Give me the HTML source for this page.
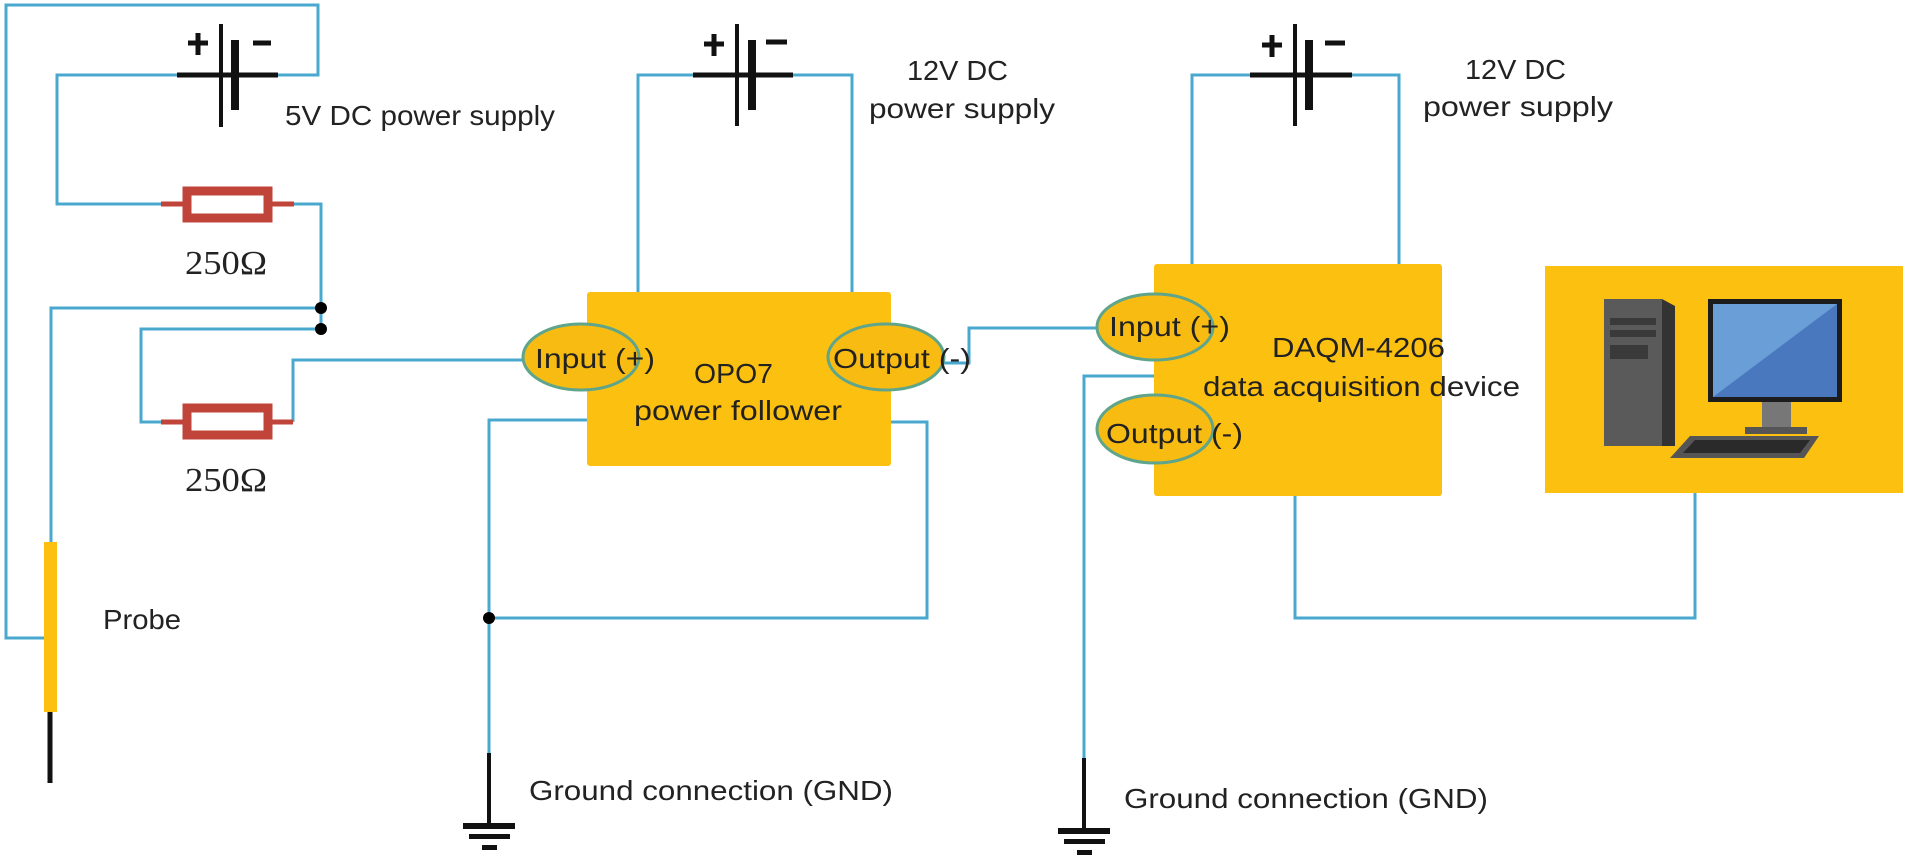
<!DOCTYPE html>
<html><head><meta charset="utf-8"><style>
html,body{margin:0;padding:0;background:#fff;}
svg{display:block;}
text{font-family:"Liberation Sans",sans-serif;fill:#222;}
.w{stroke:#4aa8cf;stroke-width:3;fill:none;}
.b{stroke:#111;fill:none;}
</style></head><body>
<svg width="1905" height="858" viewBox="0 0 1905 858" xmlns="http://www.w3.org/2000/svg">
<!-- wires -->
<polyline class="w" points="177,75 57,75 57,204 161,204"/>
<polyline class="w" points="278,75 318,75 318,5 6,5 6,638 44,638"/>
<polyline class="w" points="294,204 321,204 321,329"/>
<polyline class="w" points="321,308 51,308 51,542"/>
<polyline class="w" points="321,329 141,329 141,422 161,422"/>
<polyline class="w" points="293,422 293,360 523,360"/>
<polyline class="w" points="693,75 638,75 638,292"/>
<polyline class="w" points="793,75 852,75 852,292"/>
<polyline class="w" points="587,420 489,420 489,753"/>
<polyline class="w" points="891,422 927,422 927,618 489,618"/>
<polyline class="w" points="944,363 969,363 969,328 1097,328"/>
<polyline class="w" points="1250,75 1192,75 1192,264"/>
<polyline class="w" points="1352,75 1399,75 1399,264"/>
<polyline class="w" points="1154,376 1084,376 1084,758"/>
<polyline class="w" points="1295,496 1295,618 1695,618 1695,493"/>

<!-- batteries -->
<g class="b">
<line x1="177" y1="75" x2="278" y2="75" stroke-width="5"/>
<line x1="221" y1="24" x2="221" y2="127" stroke-width="4"/>
<line x1="235" y1="40" x2="235" y2="110" stroke-width="8"/>
<line x1="188" y1="43" x2="208" y2="43" stroke-width="5"/><line x1="198" y1="33" x2="198" y2="55" stroke-width="5"/>
<line x1="253" y1="43" x2="271" y2="43" stroke-width="5"/>

<line x1="693" y1="75" x2="793" y2="75" stroke-width="5"/>
<line x1="737" y1="24" x2="737" y2="126" stroke-width="4"/>
<line x1="752" y1="40" x2="752" y2="110" stroke-width="8"/>
<line x1="704" y1="44" x2="724" y2="44" stroke-width="5"/><line x1="714" y1="34" x2="714" y2="56" stroke-width="5"/>
<line x1="766" y1="42" x2="787" y2="42" stroke-width="5"/>

<line x1="1250" y1="75" x2="1352" y2="75" stroke-width="5"/>
<line x1="1295" y1="24" x2="1295" y2="126" stroke-width="4"/>
<line x1="1309" y1="40" x2="1309" y2="110" stroke-width="8"/>
<line x1="1262" y1="45" x2="1282" y2="45" stroke-width="5"/><line x1="1272" y1="35" x2="1272" y2="57" stroke-width="5"/>
<line x1="1325" y1="43" x2="1345" y2="43" stroke-width="5"/>
</g>

<!-- resistors -->
<g>
<line x1="161" y1="204" x2="294" y2="204" stroke="#c0443a" stroke-width="5"/>
<rect x="187" y="191" width="81" height="27" fill="#fff" stroke="#c0443a" stroke-width="9"/>
<line x1="161" y1="422" x2="293" y2="422" stroke="#c0443a" stroke-width="5"/>
<rect x="187" y="408" width="81" height="27" fill="#fff" stroke="#c0443a" stroke-width="9"/>
</g>
<circle cx="321" cy="308" r="6" fill="#000"/>
<circle cx="321" cy="329" r="6" fill="#000"/>
<circle cx="489" cy="618" r="6" fill="#000"/>

<!-- probe -->
<rect x="44" y="542" width="13" height="170" fill="#fcc010"/>
<line x1="50" y1="712" x2="50" y2="783" stroke="#111" stroke-width="5"/>

<!-- grounds -->
<g fill="#111">
<rect x="487" y="753" width="4" height="72"/>
<rect x="463" y="823" width="52" height="6"/>
<rect x="469" y="834" width="41" height="5"/>
<rect x="482" y="845" width="15" height="5"/>
<rect x="1082" y="758" width="4" height="72"/>
<rect x="1058" y="828" width="52" height="6"/>
<rect x="1064" y="839" width="41" height="5"/>
<rect x="1077" y="850" width="15" height="5"/>
</g>

<!-- boxes -->
<rect x="587" y="292" width="304" height="174" rx="3" fill="#fcc010"/>
<rect x="1154" y="264" width="288" height="232" rx="3" fill="#fcc010"/>
<rect x="1545" y="266" width="358" height="227" fill="#fcc010"/>

<!-- ellipses -->
<g fill="#f7bb12" stroke="#5ea58c" stroke-width="3">
<ellipse cx="581" cy="357" rx="58" ry="33"/>
<ellipse cx="886" cy="357" rx="58" ry="33"/>
<ellipse cx="1155" cy="327" rx="58" ry="33"/>
<ellipse cx="1155" cy="429" rx="58" ry="34"/>
</g>

<!-- computer -->
<rect x="1604" y="299" width="58" height="147" fill="#5a5a5a"/>
<polygon points="1662,299 1675,306 1675,446 1662,446" fill="#333"/>
<rect x="1610" y="318" width="46" height="7" fill="#3a3a3a"/>
<rect x="1610" y="330" width="46" height="7" fill="#3a3a3a"/>
<rect x="1610" y="345" width="38" height="14" fill="#3a3a3a"/>
<rect x="1708" y="299" width="134" height="103" fill="#1c1c1c"/>
<rect x="1713" y="304" width="124" height="93" fill="#4a78bf"/>
<polygon points="1713,304 1837,304 1713,397" fill="#6a9ed6"/>
<rect x="1762" y="402" width="29" height="25" fill="#777"/>
<rect x="1745" y="427" width="62" height="7" fill="#555"/>
<polygon points="1690,436 1819,436 1804,458 1670,458" fill="#555"/>
<polygon points="1695,440 1810,440 1800,453 1683,453" fill="#2a2a2a"/>

<!-- text -->
<text x="285" y="125" font-size="28" textLength="270" lengthAdjust="spacingAndGlyphs">5V DC power supply</text>
<text x="185" y="274" font-size="34" style="font-family:'Liberation Serif',serif" textLength="82" lengthAdjust="spacingAndGlyphs">250Ω</text>
<text x="185" y="491" font-size="34" style="font-family:'Liberation Serif',serif" textLength="82" lengthAdjust="spacingAndGlyphs">250Ω</text>
<text x="103" y="629" font-size="28" textLength="78" lengthAdjust="spacingAndGlyphs">Probe</text>
<text x="535" y="368" font-size="28" textLength="120" lengthAdjust="spacingAndGlyphs">Input (+)</text>
<text x="694" y="383" font-size="28" textLength="79" lengthAdjust="spacingAndGlyphs">OPO7</text>
<text x="634" y="420" font-size="28" textLength="208" lengthAdjust="spacingAndGlyphs">power follower</text>
<text x="833" y="368" font-size="28" textLength="138" lengthAdjust="spacingAndGlyphs">Output (-)</text>
<text x="907" y="80" font-size="28" textLength="101" lengthAdjust="spacingAndGlyphs">12V DC</text>
<text x="869" y="118" font-size="28" textLength="186" lengthAdjust="spacingAndGlyphs">power supply</text>
<text x="1465" y="79" font-size="28" textLength="101" lengthAdjust="spacingAndGlyphs">12V DC</text>
<text x="1423" y="116" font-size="28" textLength="190" lengthAdjust="spacingAndGlyphs">power supply</text>
<text x="1109" y="336" font-size="28" textLength="121" lengthAdjust="spacingAndGlyphs">Input (+)</text>
<text x="1106" y="443" font-size="28" textLength="137" lengthAdjust="spacingAndGlyphs">Output (-)</text>
<text x="1272" y="357" font-size="28" textLength="173" lengthAdjust="spacingAndGlyphs">DAQM-4206</text>
<text x="1203" y="396" font-size="28" textLength="317" lengthAdjust="spacingAndGlyphs">data acquisition device</text>
<text x="529" y="800" font-size="28" textLength="364" lengthAdjust="spacingAndGlyphs">Ground connection (GND)</text>
<text x="1124" y="808" font-size="28" textLength="364" lengthAdjust="spacingAndGlyphs">Ground connection (GND)</text>
</svg>
</body></html>
